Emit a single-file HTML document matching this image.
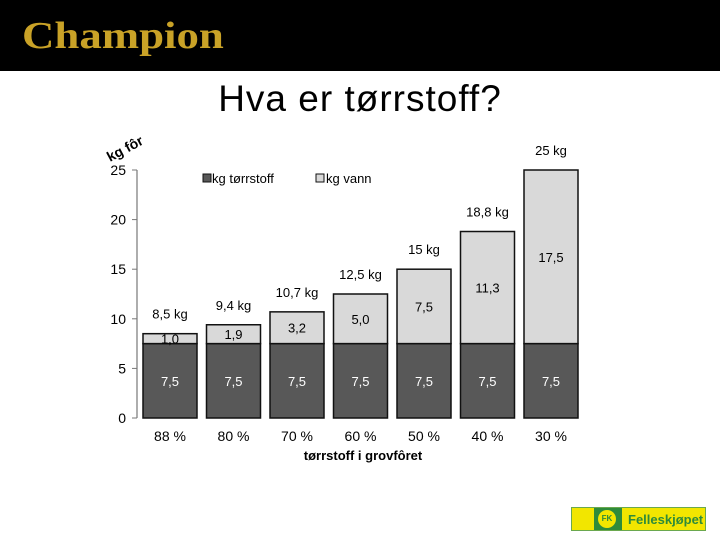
<!DOCTYPE html>
<html><head><meta charset="utf-8"><style>
body{margin:0;width:720px;height:540px;background:#fff;overflow:hidden;font-family:"Liberation Sans",sans-serif;position:relative}
#hdr{position:absolute;left:0;top:0;width:720px;height:71px;background:#000}
#logo{position:absolute;left:22px;top:14px;font-family:"Liberation Serif",serif;font-weight:bold;font-size:38px;color:#c9a227;transform:scaleX(1.18);transform-origin:left top}
#title{position:absolute;left:0;width:720px;top:78px;text-align:center;font-size:37px;color:#000;letter-spacing:1px}
#fk{position:absolute;left:571px;top:507px;width:135px;height:24px;background:#f2e600;border:1px solid #6aa84f;box-sizing:border-box}
</style></head><body>
<div id="hdr"><div id="logo">Champion</div></div>
<div id="title">Hva er tørrstoff?</div>
<svg id="chart" width="720" height="540" style="position:absolute;left:0;top:0"></svg>
<div id="fk">
<div style="position:absolute;left:22px;top:0;width:28px;height:22px;background:#2e8b3a"></div>
<div style="position:absolute;left:26px;top:2px;width:18px;height:18px;border-radius:50%;background:#f2e600;font-size:8px;line-height:18px;text-align:center;color:#2e8b3a;font-weight:bold">FK</div>
<div style="position:absolute;left:56px;top:4px;font-size:13px;font-weight:bold;color:#2e8b3a">Felleskjøpet</div>
</div>
<script>
const categories=["88 %","80 %","70 %","60 %","50 %","40 %","30 %"];
const dryValues=[7.5,7.5,7.5,7.5,7.5,7.5,7.5];
const waterValues=[1.0,1.9,3.2,5.0,7.5,11.3,17.5];
const totalLabels=["8,5 kg","9,4 kg","10,7 kg","12,5 kg","15 kg","18,8 kg","25 kg"];
const yTicks=[0,5,10,15,20,25];
const svg=document.getElementById('chart');
const NS='http://www.w3.org/2000/svg';
const y0=418,yTop=170,yMax=25,x0=137,step=63.5,bw=54,firstX=143;
const yS=v=>y0-(v/yMax)*(y0-yTop);
const xS=i=>firstX+i*step;
const fmt=v=>v.toFixed(1).replace('.',',');
function el(t,a,txt){const e=document.createElementNS(NS,t);for(const k in a)e.setAttribute(k,a[k]);if(txt!==undefined)e.textContent=txt;svg.appendChild(e);return e;}
let e=el('line',{x1:x0,y1:yTop,x2:x0,y2:y0,stroke:'#777','stroke-width':1.2});

yTicks.forEach(t=>{
 let l=el('line',{x1:x0-5,y1:yS(t),x2:x0,y2:yS(t),stroke:'#777'});
 
 let tx=el('text',{x:x0-11,y:yS(t)+5,'text-anchor':'end','font-size':14,fill:'#000'},String(t));
 
});
categories.forEach((c,i)=>{
 const x=xS(i);
 let d=el('rect',{x:x,y:yS(dryValues[i]),width:bw,height:y0-yS(dryValues[i]),fill:'#585858',stroke:'#111','stroke-width':1.5});
 
 const top=dryValues[i]+waterValues[i];
 let w=el('rect',{x:x,y:yS(top),width:bw,height:yS(dryValues[i])-yS(top),fill:'#d9d9d9',stroke:'#111','stroke-width':1.5});
 
 let a=el('text',{x:x+bw/2,y:(yS(dryValues[i])+y0)/2+5,'text-anchor':'middle','font-size':13,fill:'#fff'},fmt(dryValues[i]));
 
 let b=el('text',{x:x+bw/2,y:(yS(top)+yS(dryValues[i]))/2+5,'text-anchor':'middle','font-size':13,fill:'#000'},fmt(waterValues[i]));
 
 let t=el('text',{x:x+bw/2,y:yS(top)-15,'text-anchor':'middle','font-size':13,fill:'#000'},totalLabels[i]);
 
 let cl=el('text',{x:x+bw/2,y:441,'text-anchor':'middle','font-size':14,fill:'#000'},c);
 
});
let xt=el('text',{x:363,y:460,'text-anchor':'middle','font-size':13,'font-weight':'bold',fill:'#000'},'tørrstoff i grovfôret');

let yt=el('text',{x:110,y:162,'font-size':14,'font-weight':'bold',fill:'#000',transform:'rotate(-28 110 162)'},'kg fôr');

let l1=el('rect',{x:203,y:174,width:8,height:8,fill:'#585858',stroke:'#111'});

let l1t=el('text',{x:212,y:183,'font-size':13,fill:'#000'},'kg tørrstoff');

let l2=el('rect',{x:316,y:174,width:8,height:8,fill:'#d9d9d9',stroke:'#111'});

let l2t=el('text',{x:326,y:183,'font-size':13,fill:'#000'},'kg vann');

</script>
</body></html>
